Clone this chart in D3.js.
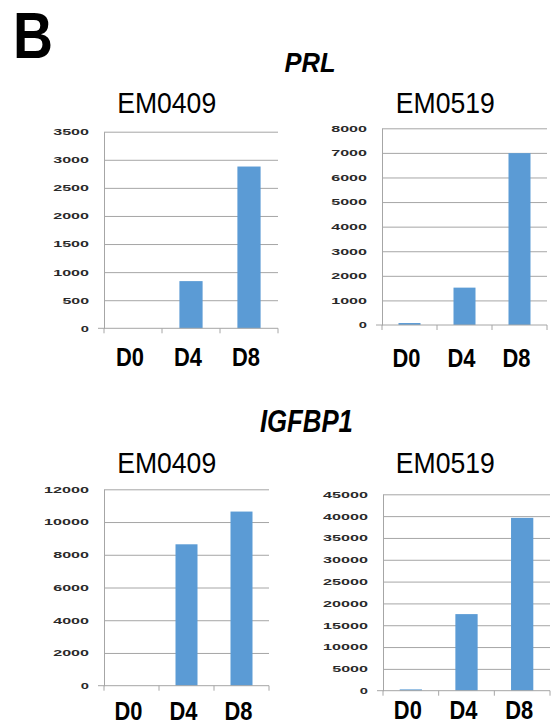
<!DOCTYPE html>
<html>
<head>
<meta charset="utf-8">
<script src="https://cdn.jsdelivr.net/npm/d3@7"></script>
<style>
body { margin: 0; background: #fff; }
svg { display: block; }
</style>
</head>
<body>
<div id="chart"></div>
<script>
// values
var categories = ["D0", "D4", "D8"];
var prlEM0409 = [0, 840, 2880];
var prlEM0519 = [80, 1520, 6990];
var igfbp1EM0409 = [0, 8640, 10640];
var igfbp1EM0519 = [300, 17550, 39600];

var yMax = [3500, 8000, 12000, 45000];
var yStep = [500, 1000, 2000, 5000];
var panelTitles = ["EM0409", "EM0519", "EM0409", "EM0519"];
var geneTitles = ["PRL", "IGFBP1"];

var series = [prlEM0409, prlEM0519, igfbp1EM0409, igfbp1EM0519];

var fontFamily = "'Liberation Sans', Arial, Helvetica, sans-serif";
var gridColor = "#a6a6a6";
var barColor = "#5b9bd5";

// where each little chart sits on the page
var boxes = [
    {left: 104, right: 278, top: 131.7, bottom: 328.3, titleX: 166.7, titleY: 113.3, labelY: 366},
    {left: 382, right: 547, top: 128.3, bottom: 325, titleX: 445.3, titleY: 112.7, labelY: 366.5},
    {left: 104, right: 269, top: 489.3, bottom: 685.7, titleX: 166.7, titleY: 473.3, labelY: 720},
    {left: 383, right: 550, top: 494.3, bottom: 690.7, titleX: 445.3, titleY: 473.3, labelY: 719}
];

var svg = d3.select("#chart")
    .append("svg")
    .attr("width", 551)
    .attr("height", 726)
    .attr("font-family", fontFamily);

// panel letter
svg.append("text")
    .attr("x", 13)
    .attr("y", 58.3)
    .attr("font-size", 64)
    .attr("font-weight", "bold")
    .attr("textLength", 40)
    .attr("lengthAdjust", "spacingAndGlyphs")
    .text("B");

// gene names
svg.append("text")
    .attr("x", 310)
    .attr("y", 72.3)
    .attr("text-anchor", "middle")
    .attr("font-size", 28)
    .attr("font-weight", "bold")
    .attr("font-style", "italic")
    .attr("textLength", 51)
    .attr("lengthAdjust", "spacingAndGlyphs")
    .text(geneTitles[0]);

svg.append("text")
    .attr("x", 306.4)
    .attr("y", 431.7)
    .attr("text-anchor", "middle")
    .attr("font-size", 31)
    .attr("font-weight", "bold")
    .attr("font-style", "italic")
    .attr("textLength", 93)
    .attr("lengthAdjust", "spacingAndGlyphs")
    .text(geneTitles[1]);

boxes.forEach(function(b, i) {
    var values = series[i];
    var width = b.right - b.left;

    var x = d3.scaleBand()
        .domain(categories)
        .range([b.left, b.right])
        .paddingInner(0.6)
        .paddingOuter(0.3);

    var y = d3.scaleLinear()
        .domain([0, yMax[i]])
        .range([b.bottom, b.top]);

    var ticks = d3.range(0, yMax[i] + 1, yStep[i]);

    var g = svg.append("g");

    // gridlines
    g.append("g")
        .attr("transform", `translate(${b.left},0)`)
        .call(d3.axisLeft(y).tickValues(ticks.slice(1)).tickSize(-width).tickFormat(""))
        .call(a => a.select(".domain").remove())
        .selectAll("line")
        .attr("stroke", gridColor);

    // value axis
    var yAxis = g.append("g")
        .attr("transform", `translate(${b.left},0)`)
        .call(d3.axisLeft(y).tickValues(ticks).tickSize(0).tickPadding(15).tickFormat(d3.format("d")))
        .attr("font-family", fontFamily);

    yAxis.select(".domain").attr("stroke", gridColor);

    yAxis.selectAll("text")
        .attr("font-size", 9)
        .attr("font-weight", "bold")
        .attr("fill", "#2a2a2a")
        .attr("textLength", d => String(d).length * 9.2 - 1)
        .attr("lengthAdjust", "spacingAndGlyphs");

    // bars
    g.append("g")
        .selectAll("rect")
        .data(values)
        .enter()
        .append("rect")
        .attr("x", (d, j) => x(categories[j]))
        .attr("width", x.bandwidth())
        .attr("y", d => y(d))
        .attr("height", d => y(0) - y(d))
        .attr("fill", barColor);

    // category axis line and ticks
    g.append("line")
        .attr("x1", b.left - 6)
        .attr("x2", b.right)
        .attr("y1", y(0))
        .attr("y2", y(0))
        .attr("stroke", gridColor);

    g.append("g")
        .selectAll("line")
        .data(d3.range(categories.length + 1))
        .enter()
        .append("line")
        .attr("x1", k => b.left + k * x.step())
        .attr("x2", k => b.left + k * x.step())
        .attr("y1", y(0))
        .attr("y2", y(0) + 5)
        .attr("stroke", gridColor);

    // category labels
    g.append("g")
        .selectAll("text")
        .data(categories)
        .enter()
        .append("text")
        .attr("x", d => x(d) + x.bandwidth() / 2 - 3)
        .attr("y", b.labelY)
        .attr("text-anchor", "middle")
        .attr("font-size", 26)
        .attr("font-weight", "bold")
        .attr("textLength", 28)
        .attr("lengthAdjust", "spacingAndGlyphs")
        .text(d => d);

    // sample title
    g.append("text")
        .attr("x", b.titleX)
        .attr("y", b.titleY)
        .attr("text-anchor", "middle")
        .attr("font-size", 30)
        .attr("textLength", 99)
        .attr("lengthAdjust", "spacingAndGlyphs")
        .text(panelTitles[i]);
});
</script>
</body>
</html>
